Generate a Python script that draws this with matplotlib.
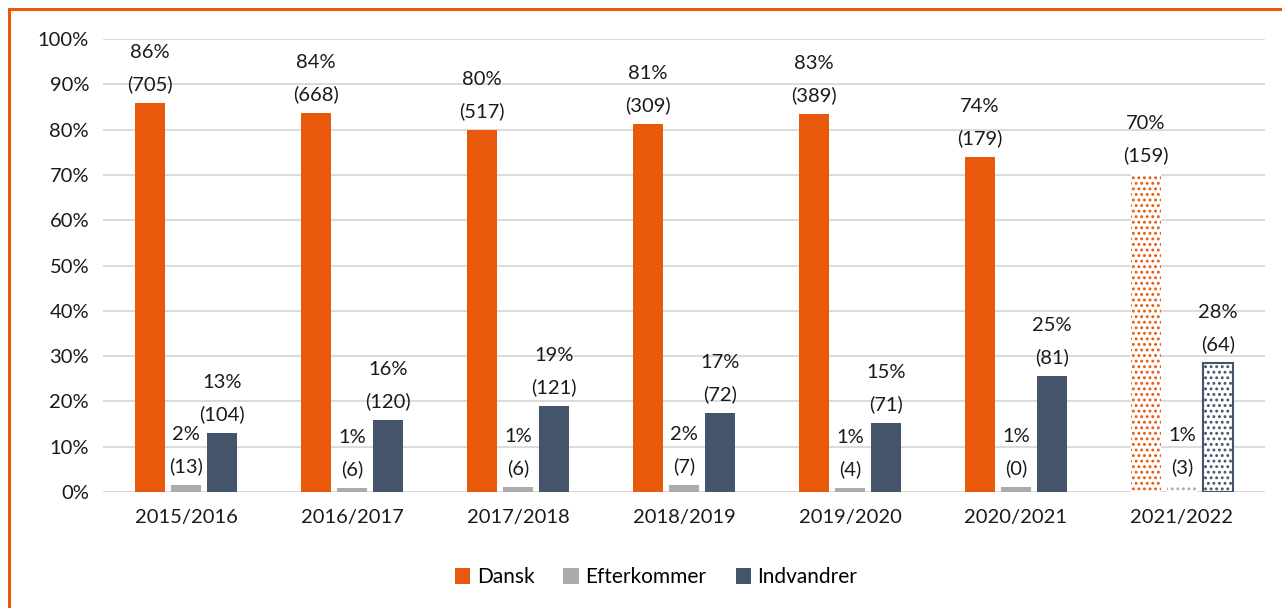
import matplotlib
matplotlib.use("Agg")
import matplotlib.pyplot as plt
from matplotlib.patches import Rectangle
import numpy as np

plt.rcParams['font.family'] = ['Lato', 'DejaVu Sans']
plt.rcParams['hatch.linewidth'] = 1.3

# Data
years = ["2015/2016", "2016/2017", "2017/2018", "2018/2019", "2019/2020", "2020/2021", "2021/2022"]
dansk = [85.9, 83.7, 79.9, 81.2, 83.4, 74.0, 70.2]
efterkommer = [1.6, 0.8, 1.1, 1.6, 0.9, 1.0, 1.3]
indvandrer = [13.0, 15.9, 19.0, 17.4, 15.2, 25.6, 28.5]
dansk_lbl = ["86%", "84%", "80%", "81%", "83%", "74%", "70%"]
dansk_n = [705, 668, 517, 309, 389, 179, 159]
efter_lbl = ["2%", "1%", "1%", "2%", "1%", "1%", "1%"]
efter_n = [13, 6, 6, 7, 4, 0, 3]
indv_lbl = ["13%", "16%", "19%", "17%", "15%", "25%", "28%"]
indv_n = [104, 120, 121, 72, 71, 81, 64]

c_dansk = "#E8590C"
c_efter = "#ABABAB"
c_indv = "#44546A"

fig = plt.figure(figsize=(12.82, 6.08), dpi=100)
ax = fig.add_axes([0.0803, 0.1908, 0.9064, 0.745])

x = np.arange(len(years))
w = 0.18
off = 0.217
n = len(years)

series = [
    (dansk, c_dansk, -off, dansk_lbl, dansk_n, "Dansk"),
    (efterkommer, c_efter, 0, efter_lbl, efter_n, "Efterkommer"),
    (indvandrer, c_indv, off, indv_lbl, indv_n, "Indvandrer"),
]

for vals, col, o, lbls, ns, name in series:
    # solid bars for all but the last year
    ax.bar(x[:-1] + o, vals[:-1], width=w, color=col, label=name, zorder=3)
    # last year dotted
    ax.bar(x[-1] + o, vals[-1], width=w, facecolor="white", edgecolor=col,
           hatch="...", linewidth=0, zorder=3)
    if name == "Indvandrer":
        ax.bar(x[-1] + o, vals[-1], width=w, facecolor="none", edgecolor=col,
               linewidth=1.5, zorder=4)
    for i in range(n):
        ax.text(x[i] + o, vals[i] + 2.2, f"{lbls[i]}\n({ns[i]})", ha="center", va="bottom",
                fontsize=14.5, color="#1a1a1a", linespacing=1.95, zorder=5)

ax.set_xlim(-0.5, n - 0.5)
ax.set_ylim(0, 100)
ax.set_yticks(range(0, 101, 10))
ax.set_yticklabels([f"{v}%" for v in range(0, 101, 10)], fontsize=14.5, color="#1a1a1a")
ax.set_xticks(x)
ax.set_xticklabels(years, fontsize=14.5, color="#1a1a1a")
ax.tick_params(length=0, pad=10)
ax.tick_params(axis='x', pad=12)
ax.yaxis.grid(True, color="#D9D9D9", linewidth=1.3, zorder=0)
for s in ax.spines.values():
    s.set_visible(False)
ax.axhline(0, color="#D9D9D9", linewidth=1.3, zorder=1)

ax.legend(loc="upper center", bbox_to_anchor=(0.476, -0.125), ncol=3, frameon=False,
          fontsize=15, handlelength=0.75, handleheight=0.75, handletextpad=0.3,
          columnspacing=1.4)

# orange frame
fig.patches.append(Rectangle((9 / 1282, -0.1), 1.2, 1.1 - 9.5 / 608, transform=fig.transFigure,
                             fill=False, edgecolor=c_dansk, linewidth=2.2, zorder=0))

fig.savefig("out.png", dpi=100)
